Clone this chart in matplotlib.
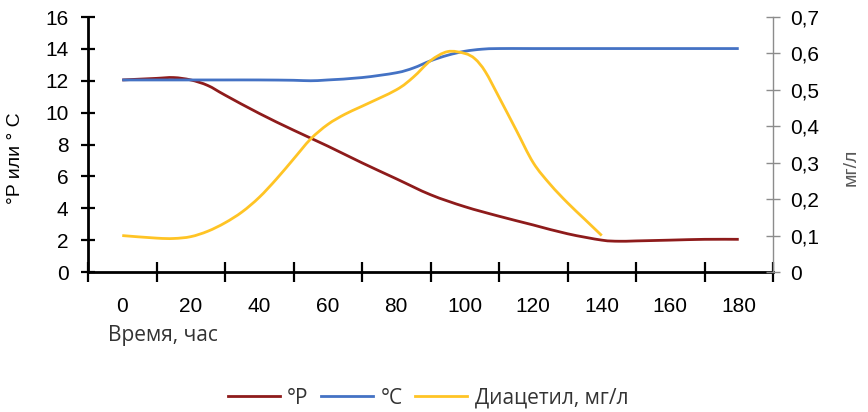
import matplotlib
matplotlib.use("Agg")
import matplotlib.pyplot as plt
from matplotlib.lines import Line2D
from matplotlib.path import Path
from matplotlib.patches import PathPatch

# Data
hours_p = [0, 5, 10, 15, 20, 25, 30, 40, 50, 60, 70, 80, 90, 100, 110, 120, 130, 140, 145, 150, 160, 170, 180]
plato = [12.05, 12.1, 12.15, 12.2, 12.05, 11.7, 11.1, 9.95, 8.9, 7.9, 6.85, 5.85, 4.85, 4.1, 3.5, 2.95, 2.4, 2.0, 1.93, 1.95, 2.0, 2.05, 2.05]

hours_t = [0, 10, 20, 30, 40, 50, 55, 60, 70, 80, 85, 90, 95, 100, 105, 110, 120, 140, 160, 180]
temp = [12.05, 12.05, 12.05, 12.05, 12.05, 12.03, 12.0, 12.05, 12.2, 12.5, 12.8, 13.25, 13.6, 13.85, 13.98, 14.02, 14.02, 14.02, 14.02, 14.02]

hours_d = [0, 10, 15, 20, 25, 30, 35, 40, 45, 50, 55, 60, 65, 70, 80, 85, 90, 95, 100, 103, 106, 110, 115, 120, 125, 130, 135, 140]
diacetyl = [0.10, 0.093, 0.092, 0.097, 0.112, 0.135, 0.165, 0.205, 0.255, 0.31, 0.365, 0.405, 0.433, 0.455, 0.50, 0.535, 0.58, 0.605, 0.60, 0.585, 0.55, 0.48, 0.39, 0.30, 0.24, 0.19, 0.145, 0.10]

x_labels = list(range(0, 181, 20))
legend_labels = ["°P", "°C", "Диацетил, мг/л"]

c_red = "#8E1B1B"
c_blue = "#4472C4"
c_yel = "#FFC425"


def smooth_path(xs, ys):
    """Cubic Bezier path through the data points (Catmull-Rom style smoothing)."""
    pts = list(zip(xs, ys))
    verts = [pts[0]]
    codes = [Path.MOVETO]
    n = len(pts)
    for i in range(n - 1):
        p0 = pts[i - 1] if i > 0 else pts[i]
        p1 = pts[i]
        p2 = pts[i + 1]
        p3 = pts[i + 2] if i + 2 < n else pts[i + 1]
        c1 = (p1[0] + (p2[0] - p0[0]) / 6.0, p1[1] + (p2[1] - p0[1]) / 6.0)
        c2 = (p2[0] - (p3[0] - p1[0]) / 6.0, p2[1] - (p3[1] - p1[1]) / 6.0)
        verts += [c1, c2, p2]
        codes += [Path.CURVE4] * 3
    return Path(verts, codes)


fig = plt.figure(figsize=(8.68, 4.12), dpi=100)
ax = fig.add_axes([88/868, 1-272/412, (773-88)/868, (272-17)/412])
ax2 = ax.twinx()

ax.add_patch(PathPatch(smooth_path(hours_p, plato), fill=False, edgecolor=c_red, lw=2.0))
ax.add_patch(PathPatch(smooth_path(hours_t, temp), fill=False, edgecolor=c_blue, lw=2.0))
ax2.add_patch(PathPatch(smooth_path(hours_d, diacetyl), fill=False, edgecolor=c_yel, lw=2.0))

ax.set_xlim(-10, 190)
ax.set_ylim(0, 16)
ax2.set_ylim(0, 0.7)

num_font = "Liberation Sans"
txt_font = "Open Sans"

ax.set_xticks(range(-10, 191, 20))
ax.set_xticklabels([])
ax.set_xticks(x_labels, minor=True)
ax.set_xticklabels([str(v) for v in x_labels], minor=True, fontsize=15, family=num_font)
ax.tick_params(axis="x", which="major", direction="inout", length=14, width=1.6, color="black")
ax.tick_params(axis="x", which="minor", length=0, pad=18)

ax.set_yticks(range(0, 17, 2))
ax.set_yticklabels([str(v) for v in range(0, 17, 2)], fontsize=15, family=num_font)
ax.tick_params(axis="y", direction="inout", length=10, width=1.6, color="black", pad=9)

rt = [round(0.1*i, 1) for i in range(8)]
ax2.set_yticks(rt)
ax2.set_yticklabels(["0"] + [f"{v:.1f}".replace(".", ",") for v in rt[1:]], fontsize=15, family=num_font)
ax2.tick_params(axis="y", direction="inout", length=10, width=1.0, color="#8C8C8C", pad=7)

for a in (ax, ax2):
    a.spines["top"].set_visible(False)
ax.spines["left"].set_linewidth(2)
ax.spines["bottom"].set_linewidth(2)
ax.spines["right"].set_visible(False)
ax2.spines["left"].set_visible(False)
ax2.spines["bottom"].set_visible(False)
ax2.spines["right"].set_color("#8C8C8C")
ax2.spines["right"].set_linewidth(1.0)

fig.text(15/868, 1-158/412, "°P или ° C", rotation=90, ha="center", va="center", fontsize=14, family=num_font)
fig.text(851/868, 1-167/412, "мг/л", rotation=90, ha="center", va="center", fontsize=14, family=num_font, color="#595959")
fig.text(108/868, 1-335/412, "Время, час", ha="left", va="center", fontsize=15, family=txt_font, color="#333333")

handles = [Line2D([], [], color=c, lw=2.0) for c in (c_red, c_blue, c_yel)]
leg = fig.legend(handles, legend_labels, loc="center", bbox_to_anchor=(428/868, 1-398/412), ncol=3,
                 frameon=False, prop={"family": txt_font, "size": 15}, handlelength=2.5,
                 handletextpad=0.35, columnspacing=0.6)
for t in leg.get_texts():
    t.set_color("#333333")

fig.savefig("out.png", dpi=100)
